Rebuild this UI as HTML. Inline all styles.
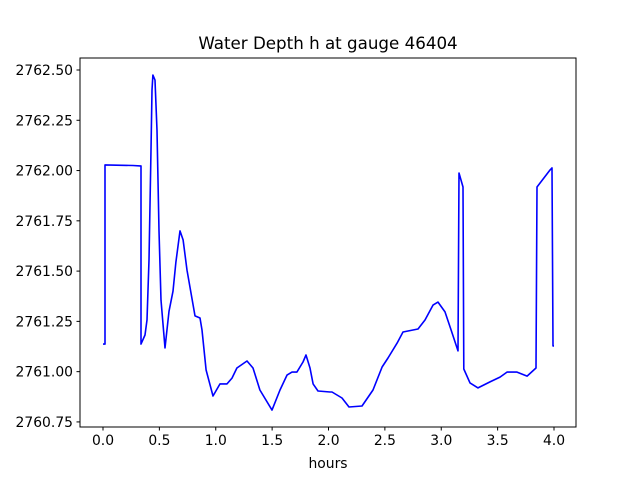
<!DOCTYPE html>
<html><head><meta charset="utf-8"><style>
body{margin:0;background:#fff;}
svg text{font-family:"DejaVu Sans","Liberation Sans",sans-serif;fill:#000;}
</style></head><body>
<svg id="chart" width="640" height="480" xmlns="http://www.w3.org/2000/svg">
<rect width="640" height="480" fill="#fff"/>
<text x="328" y="49" text-anchor="middle" font-size="16.7">Water Depth h at gauge 46404</text>
<text x="328" y="468" text-anchor="middle" font-size="13.9">hours</text>
<g id="ticks"></g>
<path id="series" fill="none" stroke="#0000ff" stroke-width="1.6" stroke-linejoin="round"/>
<rect x="80" y="58" width="496" height="369" fill="none" stroke="#000" stroke-width="1"/>
</svg>
<script>
const hours=[0.0,0.018,0.018,0.266,0.328,0.337,0.337,0.3725,0.39,0.408,0.426,0.435,0.443,0.461,0.479,0.497,0.514,0.55,0.585,0.621,0.647,0.683,0.71,0.745,0.816,0.86,0.878,0.914,0.976,1.038,1.10,1.144,1.188,1.277,1.33,1.392,1.499,1.57,1.632,1.676,1.72,1.774,1.80,1.836,1.863,1.907,2.013,2.031,2.12,2.182,2.297,2.395,2.475,2.528,2.608,2.661,2.794,2.856,2.927,2.971,3.033,3.087,3.149,3.157,3.193,3.20,3.255,3.326,3.432,3.521,3.583,3.672,3.761,3.84,3.849,3.965,3.982,3.991,4.0];
const depth=[2761.137,2761.137,2762.028,2762.025,2762.023,2762.023,2761.137,2761.182,2761.257,2761.555,2762.102,2762.40,2762.475,2762.45,2762.20,2761.70,2761.356,2761.118,2761.30,2761.40,2761.545,2761.70,2761.655,2761.505,2761.277,2761.267,2761.207,2761.008,2760.879,2760.939,2760.939,2760.968,2761.018,2761.053,2761.018,2760.909,2760.809,2760.909,2760.983,2760.998,2760.998,2761.048,2761.083,2761.018,2760.939,2760.904,2760.899,2760.899,2760.869,2760.824,2760.829,2760.909,2761.023,2761.068,2761.142,2761.197,2761.212,2761.257,2761.331,2761.346,2761.297,2761.207,2761.103,2761.988,2761.918,2761.013,2760.944,2760.919,2760.949,2760.973,2760.998,2760.998,2760.978,2761.018,2761.918,2762.003,2762.013,2761.128,2761.128];
const xTicks=["0.0","0.5","1.0","1.5","2.0","2.5","3.0","3.5","4.0"];
const yTicks=["2760.75","2761.00","2761.25","2761.50","2761.75","2762.00","2762.25","2762.50"];
const NS="http://www.w3.org/2000/svg";
function xs(h){return 103+(h-0)*112.75;}
function ys(v){return 70+(2762.5-v)*201.1;}
const g=document.getElementById('ticks');
xTicks.forEach(t=>{
  const x=xs(parseFloat(t));
  const l=document.createElementNS(NS,'line');
  l.setAttribute('x1',x);l.setAttribute('x2',x);l.setAttribute('y1',427);l.setAttribute('y2',430.5);l.setAttribute('stroke','#000');
  
  
  g.appendChild(l);
  const tx=document.createElementNS(NS,'text');
  tx.setAttribute('x',x);tx.setAttribute('y',445);tx.setAttribute('text-anchor','middle');tx.setAttribute('font-size','13.9');tx.textContent=t;
  
  
  g.appendChild(tx);
});
yTicks.forEach(t=>{
  const y=ys(parseFloat(t));
  const l=document.createElementNS(NS,'line');
  l.setAttribute('x1',76.5);l.setAttribute('x2',80);l.setAttribute('y1',y);l.setAttribute('y2',y);l.setAttribute('stroke','#000');
  
  
  g.appendChild(l);
  const tx=document.createElementNS(NS,'text');
  tx.setAttribute('x',73);tx.setAttribute('y',y+5);tx.setAttribute('text-anchor','end');tx.setAttribute('font-size','13.9');tx.textContent=t;
  
  
  g.appendChild(tx);
});
document.getElementById('series').setAttribute('d',hours.map((h,i)=>(i?'L':'M')+xs(h).toFixed(1)+' '+ys(depth[i]).toFixed(1)).join(' '));
</script>
</body></html>
